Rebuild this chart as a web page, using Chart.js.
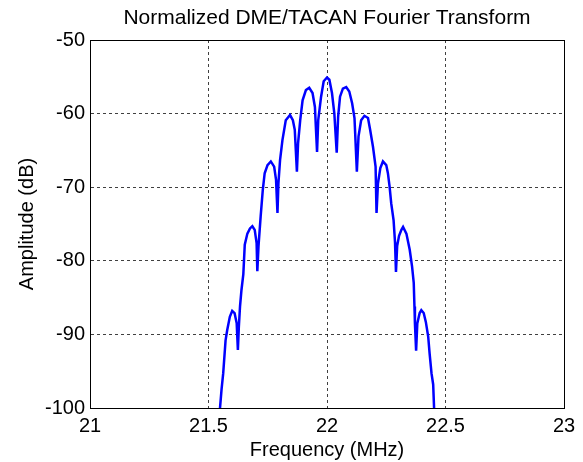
<!DOCTYPE html>
<html>
<head>
<meta charset="utf-8">
<script src="https://cdn.jsdelivr.net/npm/chart.js@4/dist/chart.umd.min.js"></script>
<style>
  html, body { margin: 0; padding: 0; background: #fff; }
  #wrap { width: 583px; height: 462px; }
</style>
</head>
<body>
<div id="wrap"><canvas id="ftChart" width="583" height="462"></canvas></div>
<script>
// frequency (MHz) and amplitude (dB)
const freqs = [
    21.546, 21.555, 21.562, 21.572, 21.579, 21.590, 21.600, 21.610, 21.619, 21.624,
    21.628, 21.633, 21.639, 21.647, 21.653, 21.664, 21.675, 21.685, 21.695, 21.703,
    21.706, 21.711, 21.720, 21.729, 21.737, 21.749, 21.763, 21.777, 21.785, 21.791,
    21.795, 21.802, 21.812, 21.826, 21.844, 21.856, 21.864, 21.873, 21.878, 21.887,
    21.897, 21.911, 21.925, 21.939, 21.949, 21.958, 21.963, 21.975, 21.986, 22.000,
    22.010, 22.021, 22.031, 22.041, 22.047, 22.055, 22.067, 22.081, 22.094, 22.106,
    22.116, 22.126, 22.133, 22.144, 22.158, 22.173, 22.182, 22.194, 22.205, 22.209,
    22.215, 22.225, 22.236, 22.250, 22.257, 22.264, 22.271, 22.281, 22.287, 22.291,
    22.296, 22.304, 22.314, 22.321, 22.335, 22.349, 22.359, 22.366, 22.369, 22.371,
    22.376, 22.381, 22.391, 22.398, 22.408, 22.417, 22.427, 22.433, 22.441, 22.448,
    22.453
];
const amps = [
    -101.0, -97.5, -95.3, -90.8, -89.4, -87.6, -86.8, -87.1, -88.5, -92.1,
    -89.0, -86.2, -84.0, -81.8, -77.8, -76.3, -75.6, -75.3, -75.8, -77.6,
    -81.4, -78.0, -74.0, -70.4, -68.1, -67.0, -66.5, -67.2, -69.0, -73.5,
    -69.5, -66.3, -63.6, -60.9, -60.2, -60.9, -62.2, -67.9, -64.0, -60.9,
    -58.2, -56.8, -56.5, -57.2, -59.1, -65.2, -60.9, -57.7, -55.6, -55.1,
    -55.4, -57.2, -60.0, -65.3, -60.4, -57.7, -56.6, -56.4, -57.0, -58.6,
    -60.6, -67.9, -63.1, -60.9, -60.3, -60.6, -62.2, -64.5, -67.2, -73.5,
    -69.5, -67.4, -66.5, -67.0, -68.1, -69.9, -72.2, -74.5, -77.5, -81.5,
    -78.0, -76.6, -75.8, -75.4, -76.3, -78.5, -80.8, -83.0, -86.2, -88.5,
    -92.2, -88.5, -87.1, -86.7, -87.1, -88.3, -90.3, -92.6, -95.3, -96.8,
    -101.0
];
const xTicks = [21, 21.5, 22, 22.5, 23];
const yTicks = [-100, -90, -80, -70, -60, -50];
const chartTitle = 'Normalized DME/TACAN Fourier Transform';

const font = "'Liberation Sans', Arial, sans-serif";

// black box round the plot area + title centred over it, like matlab axes
const boxPlugin = {
    id: 'box',
    afterDraw(chart) {
        const a = chart.chartArea;
        const c = chart.ctx;
        c.save();
        c.strokeStyle = '#000';
        c.lineWidth = 1;
        c.strokeRect(Math.round(a.left) + 0.5, Math.round(a.top) + 0.5,
            Math.round(a.right - a.left), Math.round(a.bottom - a.top));
        c.fillStyle = '#000';
        c.font = '21px ' + font;
        c.textAlign = 'center';
        c.textBaseline = 'middle';
        c.fillText(chartTitle, (a.left + a.right) / 2, 18);
        c.restore();
    }
};

const points = freqs.map((f, i) => ({ x: f, y: amps[i] }));

new Chart(document.getElementById('ftChart').getContext('2d'), {
    type: 'line',
    data: {
        datasets: [{
            data: points,
            borderColor: '#0000ff',
            borderWidth: 2.5,
            pointRadius: 0,
            tension: 0,
            fill: false
        }]
    },
    options: {
        responsive: false,
        animation: false,
        layout: { padding: { left: 5, right: 19, top: 40, bottom: 0 } },
        plugins: {
            legend: { display: false },
            tooltip: { enabled: false },
            title: { display: false }
        },
        scales: {
            x: {
                type: 'linear',
                min: 21,
                max: 23,
                afterBuildTicks: s => { s.ticks = xTicks.map(v => ({ value: v })); },
                afterFit: s => { s.height = 54; s.paddingLeft = 0; s.paddingRight = 0; },
                ticks: {
                    color: '#000',
                    font: { family: font, size: 20 },
                    padding: 6,
                    maxRotation: 0,
                    callback: v => String(v)
                },
                grid: { color: 'rgba(0,0,0,0.75)', lineWidth: 1, drawTicks: false },
                border: { display: true, color: '#000', dash: [3, 3] },
                title: {
                    display: true,
                    text: 'Frequency (MHz)',
                    color: '#000',
                    font: { family: font, size: 20 },
                    padding: { top: 0, bottom: 0 }
                }
            },
            y: {
                type: 'linear',
                min: -100,
                max: -50,
                afterBuildTicks: s => { s.ticks = yTicks.map(v => ({ value: v })); },
                afterFit: s => { s.width = 85; s.paddingTop = 0; s.paddingBottom = 0; },
                ticks: {
                    color: '#000',
                    font: { family: font, size: 20 },
                    padding: 5,
                    callback: v => String(v)
                },
                grid: { color: 'rgba(0,0,0,0.75)', lineWidth: 1, drawTicks: false },
                border: { display: true, color: '#000', dash: [3, 3] },
                title: {
                    display: true,
                    text: 'Amplitude (dB)',
                    color: '#000',
                    font: { family: font, size: 20 },
                    padding: { top: 10, bottom: 0 }
                }
            }
        }
    },
    plugins: [boxPlugin]
});
</script>
</body>
</html>
